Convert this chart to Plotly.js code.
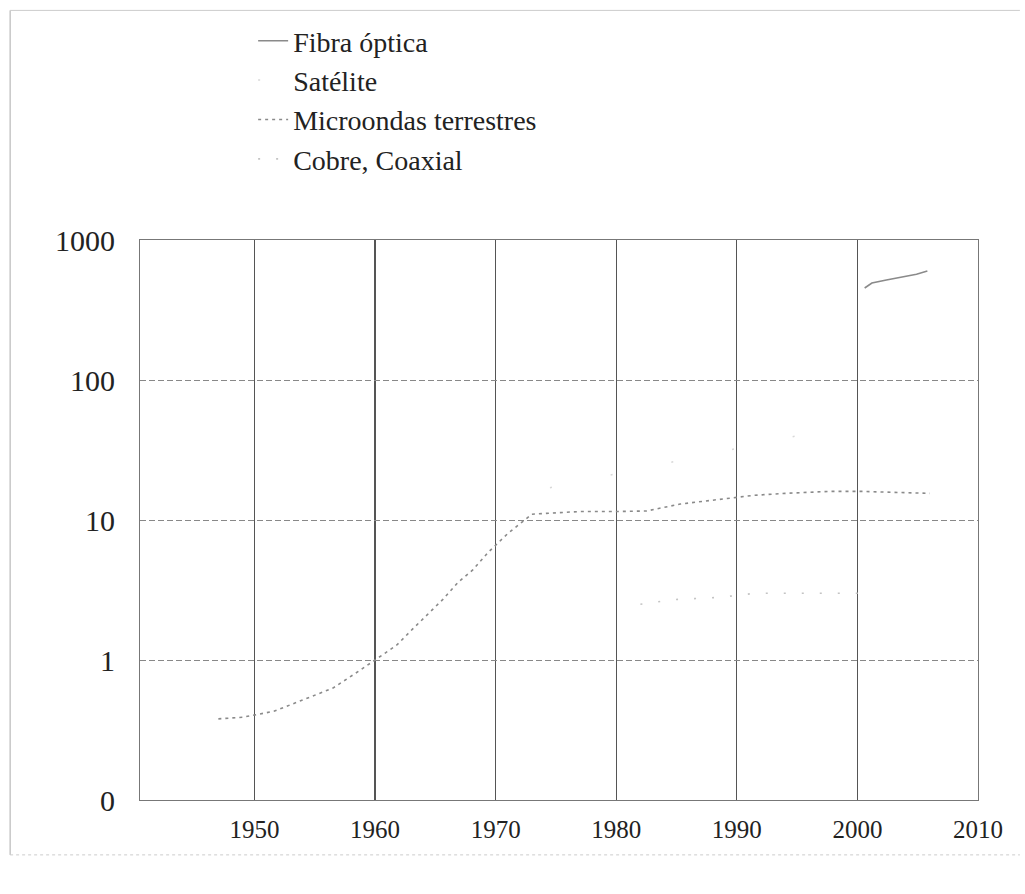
<!DOCTYPE html>
<html>
<head>
<meta charset="utf-8">
<script src="https://cdn.plot.ly/plotly-3.0.1.min.js"></script>
<style>body{margin:0;background:#fff}#chart{width:1025px;height:894px}</style>
</head>
<body>
<div id="chart"></div>
<script>
// Data
const fibraYears = [2000.6, 2001.2, 2002.4, 2003.6, 2004.9, 2005.8];
const fibraValues = [454, 493, 518, 545, 570, 600];

const sateliteYears = [1974.5, 1995];
const sateliteValues = [17, 40];

const microYears = [1947, 1949, 1951.6, 1954.6, 1956.5, 1958.8, 1960, 1961.8, 1963.1, 1964.3, 1965.6, 1966.9, 1968.1, 1969.4, 1971, 1973, 1977, 1980, 1982.5, 1985.3, 1988.6, 1991.4, 1994, 1997.6, 2000.4, 2006];
const microValues = [0.38, 0.39, 0.43, 0.54, 0.63, 0.85, 1.0, 1.28, 1.66, 2.1, 2.7, 3.6, 4.4, 5.9, 8, 11, 11.5, 11.5, 11.6, 13, 14, 15, 15.5, 16, 16, 15.5];

const cobreYears = [1982, 1984.8, 1988.5, 1991.6, 1993.6, 2001.3];
const cobreValues = [2.5, 2.7, 2.8, 3.0, 3.0, 3.0];

const seriesNames = ['Fibra óptica', 'Satélite', 'Microondas terrestres', 'Cobre, Coaxial'];
const yTickVals = [0.1, 1, 10, 100, 1000];
const yTickText = ['0', '1', '10', '100', '1000'];
const xTickVals = [1950, 1960, 1970, 1980, 1990, 2000, 2010];

const serif = '"Liberation Serif", "DejaVu Serif", serif';

const traces = [
  {x: fibraYears, y: fibraValues, name: seriesNames[0], mode: 'lines',
   line: {color: '#8a8a8a', width: 1.6, dash: 'solid'}},
  {x: sateliteYears, y: sateliteValues, name: seriesNames[1], mode: 'lines',
   line: {color: '#d8d8d8', width: 1.5, dash: '2px,60px'}},
  {x: microYears, y: microValues, name: seriesNames[2], mode: 'lines',
   line: {color: '#8a8a8a', width: 1.6, dash: '3px,4px'}},
  {x: cobreYears, y: cobreValues, name: seriesNames[3], mode: 'lines',
   line: {color: '#c4c4c4', width: 1.6, dash: '2px,16px'}}
];

const layout = {
  width: 1025, height: 894,
  paper_bgcolor: '#fff', plot_bgcolor: '#fff',
  margin: {l: 140, r: 47, t: 240, b: 94},
  showlegend: true,
  legend: {x: 0.135, y: 1.40, xanchor: 'left', yanchor: 'top',
           font: {family: serif, size: 28, color: '#222'},
           bgcolor: 'rgba(0,0,0,0)'},
  xaxis: {range: [1940.5, 2010], tickvals: xTickVals, ticks: '',
          showgrid: true, gridcolor: '#555', gridwidth: 1.3,
          showline: true, mirror: true, linecolor: '#777', linewidth: 1,
          zeroline: false, ticklabelstandoff: 7,
          tickfont: {family: serif, size: 25, color: '#222'}},
  yaxis: {type: 'log', range: [-1, 3], tickvals: yTickVals, ticktext: yTickText, ticks: '',
          showgrid: true, gridcolor: '#888', gridwidth: 1, griddash: '6px,3px',
          showline: true, mirror: true, linecolor: '#777', linewidth: 1,
          zeroline: false, ticklabelstandoff: 18,
          tickfont: {family: serif, size: 30, color: '#222'}},
  shapes: [
    {type: 'line', xref: 'paper', yref: 'paper', x0: -0.155, x1: -0.155, y0: 1.41, y1: -0.098,
     line: {color: '#aaa', width: 1}},
    {type: 'line', xref: 'paper', yref: 'paper', x0: -0.155, x1: 1.05, y0: 1.41, y1: 1.41,
     line: {color: '#ccc', width: 1}},
    {type: 'line', xref: 'paper', yref: 'paper', x0: -0.155, x1: 1.05, y0: -0.098, y1: -0.098,
     line: {color: '#ccc', width: 1, dash: 'dot'}}
  ]
};

Plotly.newPlot('chart', traces, layout, {staticPlot: true});
</script>
</body>
</html>
